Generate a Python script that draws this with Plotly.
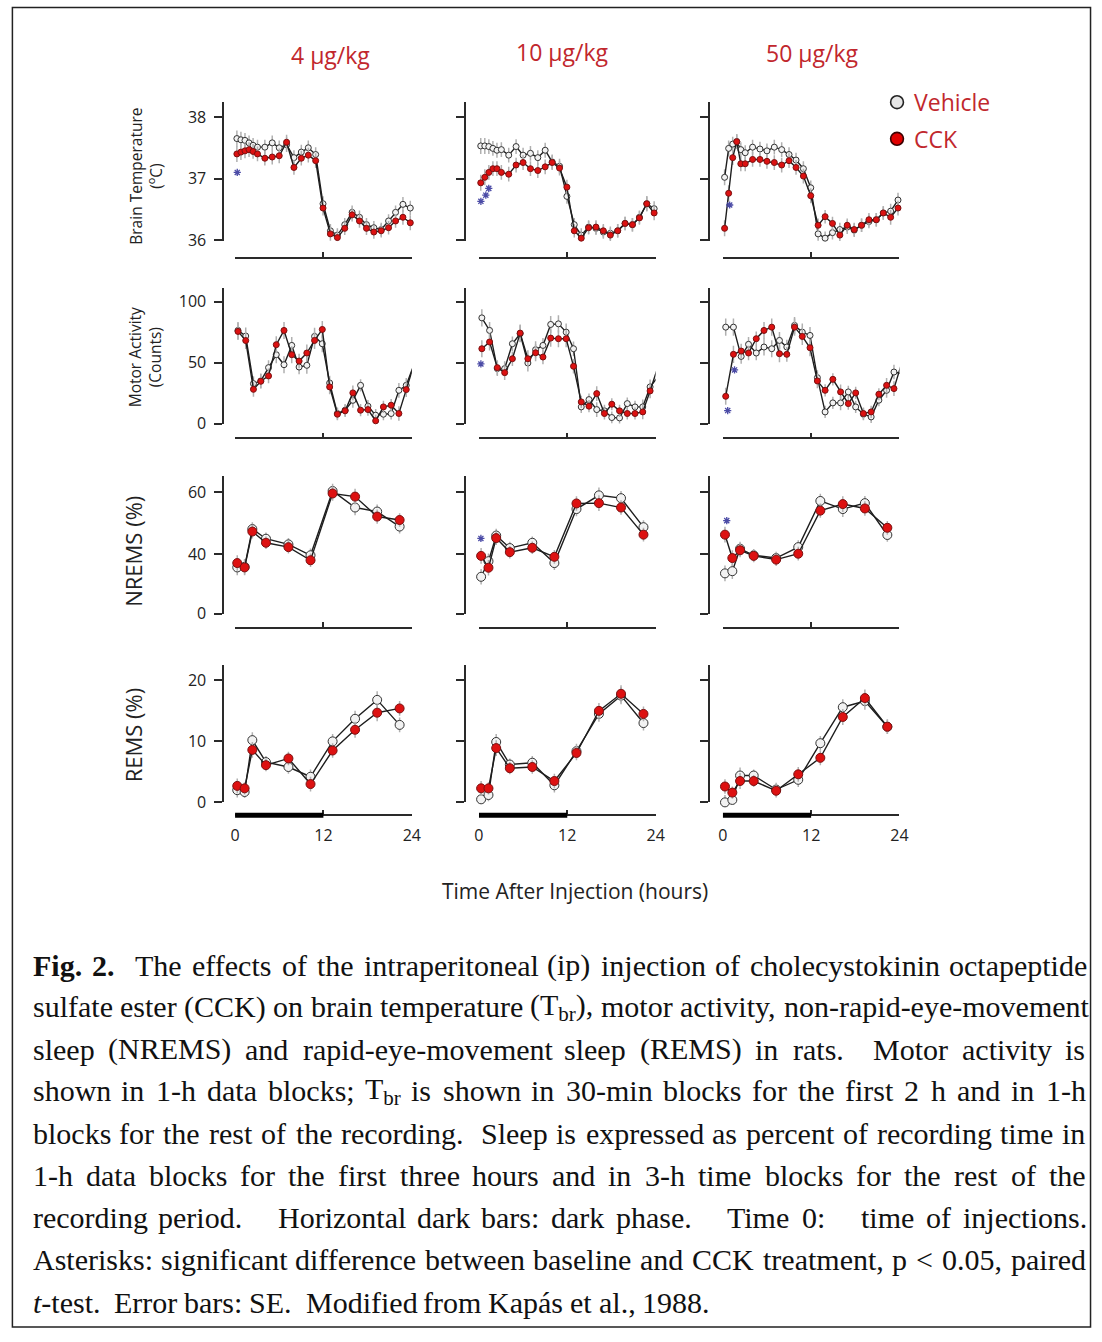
import plotly.graph_objects as go

W, H = 1102, 1342

# ---------------- data ----------------
DOSES = ["4 µg/kg", "10 µg/kg", "50 µg/kg"]

TEMP_HOURS = [0.25, 0.8, 1.35, 1.9, 2.45, 3.05, 4.05, 5.05, 6.0, 7.0, 8.0, 9.0, 9.95, 10.95,
              11.95, 12.95, 13.9, 14.9, 15.9, 16.9, 17.85, 18.85, 19.85, 20.85, 21.8, 22.8, 23.8]
MOTOR_HOURS = [0.4, 1.45, 2.5, 3.5, 4.55, 5.6, 6.65, 7.7, 8.7, 9.75, 10.8, 11.85, 12.85, 13.9,
               14.95, 16.0, 17.05, 18.05, 19.1, 20.15, 21.2, 22.25, 23.25, 24.3]
SLEEP_HOURS = [0.3, 1.3, 2.35, 4.2, 7.25, 10.25, 13.25, 16.3, 19.3, 22.35]

# Brain temperature (deg C)
TEMP_VEH_4 = [37.65, 37.63, 37.62, 37.58, 37.54, 37.51, 37.51, 37.58, 37.50, 37.55, 37.34, 37.43, 37.50, 37.39,
              36.59, 36.15, 36.08, 36.25, 36.45, 36.37, 36.25, 36.20, 36.17, 36.31, 36.45, 36.58, 36.52]
TEMP_CCK_4 = [37.40, 37.43, 37.45, 37.47, 37.44, 37.40, 37.33, 37.35, 37.37, 37.59, 37.18, 37.33, 37.38, 37.29,
              36.52, 36.10, 36.04, 36.19, 36.41, 36.31, 36.19, 36.13, 36.15, 36.20, 36.31, 36.37, 36.28]
TEMP_VEH_10 = [37.53, 37.53, 37.52, 37.49, 37.46, 37.47, 37.38, 37.52, 37.38, 37.41, 37.34, 37.46, 37.27, 37.20,
               36.71, 36.25, 36.08, 36.21, 36.19, 36.13, 36.11, 36.15, 36.27, 36.25, 36.37, 36.59, 36.51]
TEMP_CCK_10 = [36.93, 37.02, 37.10, 37.16, 37.16, 37.10, 37.07, 37.22, 37.26, 37.16, 37.13, 37.19, 37.26, 37.17,
               36.86, 36.15, 36.03, 36.20, 36.21, 36.15, 36.08, 36.15, 36.27, 36.25, 36.36, 36.59, 36.44]
TEMP_VEH_50 = [37.02, 37.49, 37.56, 37.60, 37.47, 37.42, 37.51, 37.48, 37.45, 37.51, 37.47, 37.39, 37.30, 37.16,
               36.85, 36.10, 36.03, 36.12, 36.17, 36.21, 36.16, 36.24, 36.30, 36.33, 36.44, 36.47, 36.65]
TEMP_CCK_50 = [36.19, 36.76, 37.34, 37.60, 37.24, 37.24, 37.31, 37.31, 37.28, 37.26, 37.22, 37.29, 37.18, 37.04,
               36.72, 36.24, 36.38, 36.27, 36.08, 36.24, 36.17, 36.24, 36.33, 36.33, 36.44, 36.37, 36.52]
TEMP_SE = [0.13, 0.13, 0.12, 0.12, 0.12, 0.12, 0.12, 0.12, 0.12, 0.12, 0.12, 0.12, 0.12, 0.12,
           0.12, 0.11, 0.11, 0.11, 0.11, 0.11, 0.11, 0.11, 0.11, 0.11, 0.11, 0.12, 0.12]

# Motor activity (counts)
MOTOR_VEH_4 = [76.3, 71.7, 32.7, 34.9, 45.8, 56.4, 48.2, 64.0, 46.3, 47.7, 71.4, 65.4,
               33.2, 8.2, 10.9, 19.0, 31.3, 14.2, 6.8, 7.6, 8.2, 27.2, 31.3, 48.5]
MOTOR_CCK_4 = [75.5, 68.0, 28.0, 34.6, 39.0, 64.6, 76.3, 56.4, 51.2, 57.8, 68.1, 77.1,
               30.0, 7.6, 10.4, 25.1, 10.9, 11.4, 2.2, 13.6, 15.0, 8.2, 27.8, 48.5]
MOTOR_VEH_10 = [86.6, 76.3, 45.0, 45.0, 65.4, 73.6, 49.6, 60.5, 64.0, 81.2, 81.7, 74.9,
                61.3, 13.6, 19.6, 11.4, 10.4, 4.9, 4.6, 16.3, 13.6, 13.6, 30.0, 38.1]
MOTOR_CCK_10 = [61.3, 66.8, 45.8, 41.7, 53.1, 74.1, 53.1, 58.0, 54.5, 70.0, 69.5, 69.5,
                46.9, 17.7, 14.2, 24.5, 8.2, 15.8, 10.4, 8.2, 8.2, 9.5, 26.7, 46.3]
MOTOR_VEH_50 = [79.0, 79.0, 55.0, 64.9, 57.8, 62.7, 61.3, 68.1, 62.7, 80.4, 74.9, 72.2,
                37.6, 9.5, 16.9, 16.9, 25.9, 13.6, 7.6, 5.4, 19.1, 27.2, 42.2, 40.9]
MOTOR_CCK_50 = [22.3, 56.7, 59.4, 57.8, 69.5, 76.3, 79.0, 57.2, 56.7, 79.0, 71.4, 62.1,
                34.9, 27.2, 36.2, 25.9, 16.3, 25.1, 8.2, 9.5, 24.0, 31.3, 28.6, 49.6]
MOTOR_SE = [7, 7, 6, 6, 6, 7, 7, 7, 6, 7, 7, 7, 6, 5, 5, 6, 5, 5, 5, 5, 5, 6, 6, 7]

# NREMS (% of recording time)
NREMS_VEH_4 = [35.8, 36.0, 48.1, 45.0, 43.2, 39.7, 60.3, 55.0, 53.7, 48.9]
NREMS_CCK_4 = [37.2, 35.8, 47.3, 43.7, 42.3, 38.1, 59.5, 58.5, 52.1, 51.0]
NREMS_VEH_10 = [32.8, 37.8, 46.0, 42.0, 43.7, 37.2, 54.5, 58.9, 58.0, 48.7]
NREMS_CCK_10 = [39.5, 35.7, 45.2, 40.7, 42.1, 39.2, 56.3, 56.4, 55.0, 46.3]
NREMS_VEH_50 = [33.9, 34.6, 41.8, 39.7, 38.8, 42.3, 57.1, 54.5, 56.4, 46.2]
NREMS_CCK_50 = [46.3, 38.8, 41.3, 39.5, 38.3, 40.2, 54.0, 56.1, 54.7, 48.5]
NREMS_SE = [2.5, 2.5, 2.2, 2.0, 2.0, 2.2, 2.3, 2.5, 2.3, 2.2]

# REMS (% of recording time)
REMS_VEH_4 = [2.0, 1.7, 10.2, 6.6, 5.8, 4.2, 10.0, 13.7, 16.8, 12.7]
REMS_CCK_4 = [2.7, 2.3, 8.6, 6.1, 7.2, 3.0, 8.5, 11.9, 14.7, 15.4]
REMS_VEH_10 = [0.5, 1.2, 9.9, 6.2, 6.5, 2.8, 8.4, 14.5, 17.5, 13.0]
REMS_CCK_10 = [2.3, 2.3, 8.9, 5.6, 5.8, 3.5, 8.1, 15.0, 17.8, 14.5]
REMS_VEH_50 = [0.0, 0.4, 4.4, 4.4, 2.1, 3.7, 9.7, 15.6, 16.6, 12.4]
REMS_CCK_50 = [2.6, 1.6, 3.5, 3.5, 1.9, 4.6, 7.3, 14.0, 17.1, 12.4]
REMS_SE = [1.2, 1.0, 1.3, 1.0, 1.1, 1.2, 1.2, 1.3, 1.4, 1.2]

# significance asterisks: (row, col, hour, value); rows 0 temp, 1 motor, 2 NREMS
STARS = [
    (0, 0, 0.3, 37.10),
    (0, 1, 0.27, 36.63), (0, 1, 0.94, 36.73), (0, 1, 1.34, 36.84),
    (0, 2, 0.27, 35.97), (0, 2, 0.94, 36.57),
    (1, 1, 0.27, 48.8),
    (1, 2, 1.6, 43.9), (1, 2, 0.67, 10.6),
    (2, 1, 0.27, 45.1),
    (2, 2, 0.54, 50.8),
]

ROW_LABELS = ["Brain Temperature<br>(<sup>o</sup>C)", "Motor Activity<br>(Counts)", "NREMS (%)", "REMS (%)"]
X_TITLE = "Time After Injection (hours)"

CAPTION = [
    "<b>Fig.</b> <b>2.</b>  The effects of the intraperitoneal (ip) injection of cholecystokinin octapeptide",
    "sulfate ester (CCK) on brain temperature (T<sub>br</sub>), motor activity, non-rapid-eye-movement",
    "sleep (NREMS) and rapid-eye-movement sleep (REMS) in rats.  Motor activity is",
    "shown in 1-h data blocks; T<sub>br</sub> is shown in 30-min blocks for the first 2 h and in 1-h",
    "blocks for the rest of the recording.  Sleep is expressed as percent of recording time in",
    "1-h data blocks for the first three hours and in 3-h time blocks for the rest of the",
    "recording period.   Horizontal dark bars: dark phase.   Time 0:   time of injections.",
    "Asterisks: significant difference between baseline and CCK treatment, p &lt; 0.05, paired",
    "<i>t</i>-test.  Error bars: SE.  Modified from Kapás et al., 1988.",
]

# ---------------- layout helpers (page pixel -> paper fraction) ----------------
def fx(px):
    return px / W


def fy(py):
    return 1 - py / H


COL_X = [(233, 412), (480, 659), (727, 906)]
COL_YAXIS = [221, 466, 713]
ROWS = [
    dict(top=103, bottom=243, xpos=260, rng=[35.984, 38.242], tv=[36, 37, 38], tt=["36", "37", "38"],
         hours=TEMP_HOURS, veh=[TEMP_VEH_4, TEMP_VEH_10, TEMP_VEH_50],
         cck=[TEMP_CCK_4, TEMP_CCK_10, TEMP_CCK_50], se=TEMP_SE, ms=6),
    dict(top=290, bottom=427, xpos=442, rng=[0, 111.4], tv=[0, 50, 100], tt=["0", "50", "100"],
         hours=MOTOR_HOURS, veh=[MOTOR_VEH_4, MOTOR_VEH_10, MOTOR_VEH_50],
         cck=[MOTOR_CCK_4, MOTOR_CCK_10, MOTOR_CCK_50], se=MOTOR_SE, ms=6),
    dict(top=480, bottom=619, xpos=633, rng=[20.9, 65.08], tv=[20.95, 40, 60], tt=["0", "40", "60"],
         hours=SLEEP_HOURS, veh=[NREMS_VEH_4, NREMS_VEH_10, NREMS_VEH_50],
         cck=[NREMS_CCK_4, NREMS_CCK_10, NREMS_CCK_50], se=NREMS_SE, ms=9),
    dict(top=670, bottom=809, xpos=822, rng=[0, 22.6], tv=[0, 10, 20], tt=["0", "10", "20"],
         hours=SLEEP_HOURS, veh=[REMS_VEH_4, REMS_VEH_10, REMS_VEH_50],
         cck=[REMS_CCK_4, REMS_CCK_10, REMS_CCK_50], se=REMS_SE, ms=9),
]

AX = "#2a2a2a"
RED = "#c1272d"
STAR = "#4b4ba6"
SANS = "Open Sans, Noto Sans, sans-serif"
SERIF = "Liberation Serif, Times New Roman, serif"

fig = go.Figure()
layout = dict(width=W, height=H, margin=dict(l=0, r=0, t=0, b=0), autosize=False,
              paper_bgcolor="white", plot_bgcolor="white", showlegend=False)
annotations = []
shapes = []

for r, row in enumerate(ROWS):
    for c in range(3):
        idx = r * 3 + c + 1
        xa = "xaxis" if idx == 1 else f"xaxis{idx}"
        ya = "yaxis" if idx == 1 else f"yaxis{idx}"
        xr = "x" if idx == 1 else f"x{idx}"
        yr = "y" if idx == 1 else f"y{idx}"
        layout[xa] = dict(domain=[fx(COL_X[c][0]), fx(COL_X[c][1])], range=[0, 24],
                          anchor="free", position=fy(row["xpos"]), showline=True,
                          linecolor=AX, linewidth=1.5, ticks="inside", ticklen=5,
                          tickwidth=1.5, tickcolor=AX, tickvals=[0, 12, 24],
                          showticklabels=(r == 3), ticklabelstandoff=6,
                          tickfont=dict(family=SANS, size=16, color="#222"),
                          showgrid=False, zeroline=False, fixedrange=True)
        layout[ya] = dict(domain=[fy(row["bottom"]), fy(row["top"])], range=row["rng"],
                          anchor="free", position=fx(COL_YAXIS[c]), showline=True,
                          linecolor=AX, linewidth=1.5, ticks="outside", ticklen=8,
                          tickwidth=1.5, tickcolor=AX, tickvals=row["tv"], ticktext=row["tt"],
                          showticklabels=(c == 0), ticklabelstandoff=5,
                          tickfont=dict(family=SANS, size=16, color="#222"),
                          showgrid=False, zeroline=False, fixedrange=True)
        ms = row["ms"]
        fig.add_trace(go.Scatter(
            x=row["hours"], y=row["veh"][c], xaxis=xr, yaxis=yr, mode="lines+markers",
            line=dict(color="#1e1e1e", width=1.4),
            marker=dict(size=ms, color="#f2f2f2", line=dict(color="#333333", width=1)),
            error_y=dict(type="data", array=row["se"], color="#b0b0b0", thickness=1.5, width=0),
            cliponaxis=False, name="Vehicle"))
        fig.add_trace(go.Scatter(
            x=row["hours"], y=row["cck"][c], xaxis=xr, yaxis=yr, mode="lines+markers",
            line=dict(color="#1e1e1e", width=1.4),
            marker=dict(size=ms, color="#dd1111", line=dict(color="#7a1010", width=1)),
            error_y=dict(type="data", array=row["se"], color="#b0b0b0", thickness=1.5, width=0),
            cliponaxis=False, name="CCK"))
        if r == 3:
            shapes.append(dict(type="line", xref=xr, yref="paper", x0=0, x1=12,
                               y0=fy(row["xpos"]), y1=fy(row["xpos"]),
                               line=dict(color="black", width=5)))

# asterisks
for (r, c, hx, vy) in STARS:
    idx = r * 3 + c + 1
    fig.add_trace(go.Scatter(
        x=[hx], y=[vy], xaxis="x" if idx == 1 else f"x{idx}", yaxis="y" if idx == 1 else f"y{idx}",
        mode="markers", cliponaxis=False,
        marker=dict(symbol="asterisk-open", size=6, color=STAR, line=dict(color=STAR, width=1.3))))

# column titles
for c, (txt, cx, cy) in enumerate(zip(DOSES, [330, 565, 818], [55, 52, 53])):
    annotations.append(dict(text=txt, x=fx(cx), y=fy(cy), xref="paper", yref="paper",
                            showarrow=False, xanchor="center", yanchor="middle",
                            font=dict(family=SANS, size=23, color=RED)))

# row labels
for txt, cx, cy, sz in zip(ROW_LABELS, [142, 142, 130, 130], [178, 360, 556, 741], [15.5, 15.5, 22, 22]):
    annotations.append(dict(text=txt, x=fx(cx), y=fy(cy), xref="paper", yref="paper",
                            showarrow=False, xanchor="center", yanchor="middle", textangle=-90,
                            font=dict(family=SANS, size=sz, color="#222")))

annotations.append(dict(text=X_TITLE, x=fx(577), y=fy(898), xref="paper", yref="paper",
                        showarrow=False, xanchor="center", yanchor="middle",
                        font=dict(family=SANS, size=21, color="#222")))

# legend
for txt, cy, fill, edge in [("Vehicle", 103, "#e6e6e6", "#222"), ("CCK", 140, "#e00000", "#3a0000")]:
    shapes.append(dict(type="circle", xref="paper", yref="paper",
                       x0=fx(897), x1=fx(910), y0=fy(cy + 6.5), y1=fy(cy - 6.5),
                       fillcolor=fill, line=dict(color=edge, width=1.6)))
    annotations.append(dict(text=txt, x=fx(919), y=fy(cy), xref="paper", yref="paper",
                            showarrow=False, xanchor="left", yanchor="middle",
                            font=dict(family=SANS, size=23, color=RED)))

# ---------------- caption (justified, Times metrics) ----------------
TNR = dict(zip("abcdefghijklmnopqrstuvwxyz",
               [444, 500, 444, 500, 444, 333, 500, 500, 278, 278, 500, 278, 778, 500, 500, 500, 500, 333,
                389, 278, 500, 500, 722, 500, 500, 444]))
TNR.update(dict(zip("ABCDEFGHIJKLMNOPQRSTUVWXYZ",
                    [722, 667, 667, 722, 611, 556, 722, 722, 333, 389, 722, 611, 889, 722, 722, 556, 722, 667,
                     556, 611, 722, 722, 944, 722, 722, 611])))
TNR.update({d: 500 for d in "0123456789"})
TNR.update({" ": 250, ".": 250, ",": 250, ":": 278, ";": 278, "(": 333, ")": 333, "-": 333,
            "<": 564, "á": 444, "/": 278, "%": 833})
TNR_BOLD = {"F": 611}


def word_width(tok, size):
    w, scale, bold, i = 0.0, 1.0, False, 0
    tags = {"<sub>": ("scale", 0.7), "</sub>": ("scale", 1.0), "<b>": ("bold", True),
            "</b>": ("bold", False), "<i>": (None, None), "</i>": (None, None)}
    while i < len(tok):
        hit = False
        for tg, (k, v) in tags.items():
            if tok.startswith(tg, i):
                if k == "scale":
                    scale = v
                elif k == "bold":
                    bold = v
                i += len(tg)
                hit = True
                break
        if hit:
            continue
        if tok.startswith("&lt;", i):
            ch = "<"
            i += 4
        else:
            ch = tok[i]
            i += 1
        cw = TNR_BOLD.get(ch, TNR.get(ch, 500)) if bold else TNR.get(ch, 500)
        w += cw * scale
    return w * size / 1000.0


CAP_SIZE = 30
CAP_LEFT, CAP_RIGHT = 27, 1093
CAP_Y = [972, 1014, 1057, 1099, 1142, 1184, 1227, 1269, 1312]
for li, line in enumerate(CAPTION):
    toks = line.split(" ")
    nsp = len(toks) - 1
    words_w = sum(word_width(t, CAP_SIZE) for t in toks if t)
    space = 0.25 * CAP_SIZE
    if li < len(CAPTION) - 1 and nsp > 0:
        space = (CAP_RIGHT - CAP_LEFT - words_w) / nsp
    xcur = CAP_LEFT
    for t in toks:
        if t:
            annotations.append(dict(text=t, x=fx(xcur), y=fy(CAP_Y[li] + 1), xref="paper", yref="paper",
                                    showarrow=False, xanchor="left", yanchor="middle", borderpad=0,
                                    font=dict(family=SERIF, size=CAP_SIZE, color="#111")))
            xcur += word_width(t, CAP_SIZE)
        xcur += space

# border
shapes.append(dict(type="rect", xref="paper", yref="paper", x0=fx(7.5), x1=fx(1099.5),
                   y0=fy(1338), y1=fy(7.5), line=dict(color="#222", width=1.5)))

layout["annotations"] = annotations
layout["shapes"] = shapes
fig.update_layout(**layout)
fig.write_html("out.html")
